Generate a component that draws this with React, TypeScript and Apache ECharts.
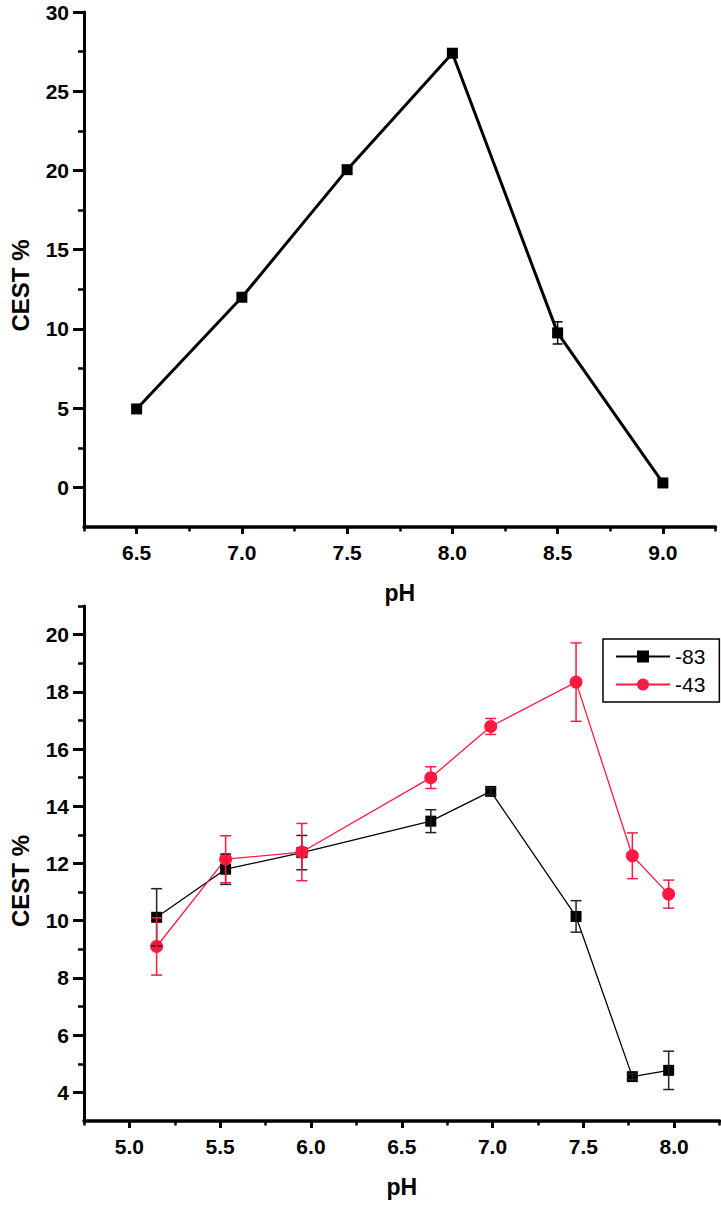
import React, { useEffect, useRef } from 'react';
import * as echarts from 'echarts';

// ---- data: top panel ----
const phTop = [6.5, 7.0, 7.5, 8.0, 8.5, 9.0];
const cestTop = [4.95, 12.0, 20.05, 27.4, 9.75, 0.28];
const errTop = [0.15, 0.15, 0.15, 0.15, 0.7, 0.15];

// ---- data: bottom panel ----
const phBottom = [5.15, 5.53, 5.95, 6.66, 6.99, 7.46, 7.77, 7.97];
const cest83 = [10.12, 11.8, 12.38, 13.48, 14.52, 10.15, 4.55, 4.77];
const err83 = [1.0, 0.53, 0.6, 0.4, 0.12, 0.55, 0.1, 0.67];
const cest43 = [9.1, 12.15, 12.4, 15.0, 16.79, 18.34, 12.27, 10.93];
const err43 = [1.0, 0.82, 1.0, 0.38, 0.28, 1.37, 0.8, 0.49];

const seriesNames = ['-83', '-43'];

// ---- ticks ----
const topXMajor = [6.5, 7.0, 7.5, 8.0, 8.5, 9.0];
const topXMinor = [6.25, 6.75, 7.25, 7.75, 8.25, 8.75, 9.25];
const topYMajor = [0, 5, 10, 15, 20, 25, 30];
const topYMinor = [2.5, 7.5, 12.5, 17.5, 22.5, 27.5];
const botXMajor = [5.0, 5.5, 6.0, 6.5, 7.0, 7.5, 8.0];
const botXMinor = [4.75, 5.25, 5.75, 6.25, 6.75, 7.25, 7.75, 8.25];
const botYMajor = [4, 6, 8, 10, 12, 14, 16, 18, 20];
const botYMinor = [5, 7, 9, 11, 13, 15, 17, 19, 21];

const FONT = '"Liberation Sans", Arial, Helvetica, sans-serif';
const RED = '#FF1A42';

const labelStyle = { color: '#000', fontSize: 21, fontWeight: 'bold' as const, fontFamily: FONT };
const nameStyle = { color: '#000', fontSize: 23, fontWeight: 'bold' as const, fontFamily: FONT };

function majorX(grid: number, min: number, max: number, ticks: number[]) {
  return {
    type: 'value', gridIndex: grid, min, max, position: 'bottom',
    axisLine: { show: true, onZero: false, lineStyle: { color: '#000', width: 3.5 } },
    axisTick: { show: true, customValues: ticks, length: 7, lineStyle: { color: '#000', width: 3 } },
    axisLabel: { show: true, customValues: ticks, margin: 15, formatter: (v: number) => v.toFixed(1), ...labelStyle },
    splitLine: { show: false },
    name: 'pH', nameLocation: 'middle', nameGap: 54, nameTextStyle: nameStyle,
  };
}
function minorX(grid: number, min: number, max: number, ticks: number[]) {
  return {
    type: 'value', gridIndex: grid, min, max, position: 'bottom',
    axisLine: { show: false, onZero: false },
    axisTick: { show: true, customValues: ticks, length: 4.5, lineStyle: { color: '#000', width: 2.5 } },
    axisLabel: { show: false },
    splitLine: { show: false },
  };
}
function majorY(grid: number, min: number, max: number, ticks: number[], pad: number) {
  return {
    type: 'value', gridIndex: grid, min, max, position: 'left',
    axisLine: { show: true, onZero: false, lineStyle: { color: '#000', width: 3 } },
    axisTick: { show: true, customValues: ticks, length: 11, lineStyle: { color: '#000', width: 3 } },
    axisLabel: { show: true, customValues: ticks, margin: 15, formatter: (v: number) => String(v), ...labelStyle },
    splitLine: { show: false },
    name: 'CEST %', nameLocation: 'middle', nameGap: 52,
    nameTextStyle: { ...nameStyle, fontSize: 24, padding: [0, pad, 0, 0] },
  };
}
function minorY(grid: number, min: number, max: number, ticks: number[]) {
  return {
    type: 'value', gridIndex: grid, min, max, position: 'left',
    axisLine: { show: false, onZero: false },
    axisTick: { show: true, customValues: ticks, length: 6, lineStyle: { color: '#000', width: 2.5 } },
    axisLabel: { show: false },
    splitLine: { show: false },
  };
}

function errorSeries(xi: number, yi: number, xs: number[], ys: number[], es: number[], color: string, lw: number, cap: number, z: number) {
  return {
    type: 'custom', xAxisIndex: xi, yAxisIndex: yi, z,
    silent: true,
    data: xs.map((x, i) => [x, ys[i] - es[i], ys[i] + es[i]]),
    encode: { x: 0, y: [1, 2] },
    renderItem: (_p: any, api: any) => {
      const x = api.value(0);
      const lo = api.coord([x, api.value(1)]);
      const hi = api.coord([x, api.value(2)]);
      const w = cap / 2;
      const style = { stroke: color, lineWidth: lw };
      return {
        type: 'group',
        children: [
          { type: 'line', shape: { x1: lo[0], y1: lo[1], x2: hi[0], y2: hi[1] }, style },
          { type: 'line', shape: { x1: lo[0] - w, y1: lo[1], x2: lo[0] + w, y2: lo[1] }, style },
          { type: 'line', shape: { x1: hi[0] - w, y1: hi[1], x2: hi[0] + w, y2: hi[1] }, style },
        ],
      };
    },
  };
}

export default function App() {
  const ref = useRef<HTMLDivElement>(null);
  useEffect(() => {
    document.body.style.margin = '0';
    if (!ref.current) return;
    const chart = echarts.init(ref.current, undefined, { renderer: 'svg' });
    chart.setOption({
      animation: false,
      backgroundColor: '#fff',
      grid: [
        { left: 81.5, top: 12, width: 634, height: 515 },
        { left: 80.5, top: 606, width: 639, height: 515 },
      ],
      xAxis: [
        majorX(0, 6.25, 9.25, topXMajor),
        minorX(0, 6.25, 9.25, topXMinor),
        majorX(1, 4.75, 8.25, botXMajor),
        minorX(1, 4.75, 8.25, botXMinor),
      ],
      yAxis: [
        majorY(0, -2.5, 30, topYMajor, 32),
        minorY(0, -2.5, 30, topYMinor),
        majorY(1, 3, 21, botYMajor, 35),
        minorY(1, 3, 21, botYMinor),
      ],
      legend: {
        data: seriesNames,
        orient: 'vertical',
        left: 603, top: 639,
        padding: [7, 14, 7, 12],
        itemWidth: 54, itemHeight: 15, itemGap: 7,
        borderColor: '#000', borderWidth: 1.5,
        textStyle: { color: '#000', fontSize: 21, fontFamily: FONT, lineHeight: 21 },
      },
      series: [
        {
          type: 'line', xAxisIndex: 0, yAxisIndex: 0, z: 2,
          data: phTop.map((x, i) => [x, cestTop[i]]),
          symbol: 'rect', symbolSize: 11,
          itemStyle: { color: '#000' },
          lineStyle: { color: '#000', width: 3 },
        },
        errorSeries(0, 0, phTop, cestTop, errTop, '#000', 1.5, 10, 3),
        {
          name: seriesNames[0],
          type: 'line', xAxisIndex: 2, yAxisIndex: 2, z: 2,
          data: phBottom.map((x, i) => [x, cest83[i]]),
          symbol: 'rect', symbolSize: 11,
          itemStyle: { color: '#000' },
          lineStyle: { color: '#000', width: 1.3 },
        },
        {
          name: seriesNames[1],
          type: 'line', xAxisIndex: 2, yAxisIndex: 2, z: 2,
          data: phBottom.map((x, i) => [x, cest43[i]]),
          symbol: 'circle', symbolSize: 13,
          itemStyle: { color: RED },
          lineStyle: { color: RED, width: 1.3 },
        },
        errorSeries(2, 2, phBottom, cest83, err83, '#222', 1.5, 11, 3),
        errorSeries(2, 2, phBottom, cest43, err43, RED, 1.5, 11, 3),
      ],
    });
    return () => chart.dispose();
  }, []);
  return <div ref={ref} style={{ width: 721, height: 1207 }} />;
}
